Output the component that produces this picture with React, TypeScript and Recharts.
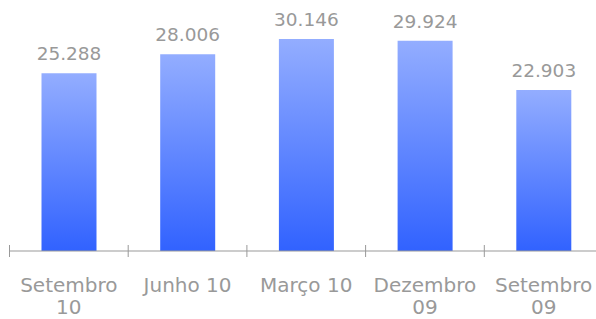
import { BarChart, Bar, XAxis, YAxis, LabelList } from 'recharts'

// Periods and values
const PERIODS = ['Setembro 10', 'Junho 10', 'Março 10', 'Dezembro 09', 'Setembro 09']
const LINE_ONE = ['Setembro', 'Junho 10', 'Março 10', 'Dezembro', 'Setembro']
const LINE_TWO = ['10', '', '', '09', '09']
const VALUES = [25.288, 28.006, 30.146, 29.924, 22.903]

const data = PERIODS.map((p, i) => ({ period: p, l1: LINE_ONE[i], l2: LINE_TWO[i], value: VALUES[i] }))

const W = 610
const H = 319
const M = { top: 5, right: 7, bottom: 0, left: 9.5 }
const BAND = (W - M.left - M.right) / PERIODS.length
const FONT = '"DejaVu Sans", Verdana, sans-serif'
const GREY = '#999999'

function PeriodTick(props: any) {
  const { x, y, payload, index } = props
  const row = data[index] ?? data.find((d) => d.period === payload.value)
  const left = x - BAND / 2
  return (
    <g>
      <line x1={left} x2={left} y1={y - 6} y2={y + 6} stroke={GREY} />
      {index === PERIODS.length - 1 && (
        <line x1={x + BAND / 2} x2={x + BAND / 2} y1={y - 6} y2={y + 6} stroke={GREY} />
      )}
      <text x={x} y={y + 41} textAnchor="middle" fill={GREY} fontSize={20} fontFamily={FONT}>
        {row?.l1}
      </text>
      {row?.l2 && (
        <text x={x} y={y + 63} textAnchor="middle" fill={GREY} fontSize={20} fontFamily={FONT}>
          {row.l2}
        </text>
      )}
    </g>
  )
}

function ValueLabel(props: any) {
  const { x, y, width, value } = props
  return (
    <text x={x + width / 2} y={y - 13} textAnchor="middle" fill={GREY} fontSize={18.5} fontFamily={FONT}>
      {Number(value).toFixed(3)}
    </text>
  )
}

export default function App() {
  return (
    <div style={{ position: 'absolute', left: 0, top: 0 }}>
      <BarChart width={W} height={H} data={data} margin={M}>
        <defs>
          <linearGradient id="barFill" x1="0" y1="0" x2="0" y2="1">
            <stop offset="0%" stopColor="#93adff" />
            <stop offset="100%" stopColor="#3162ff" />
          </linearGradient>
        </defs>
        <XAxis
          dataKey="period"
          height={68}
          interval={0}
          tickLine={false}
          tickSize={0}
          tickMargin={0}
          axisLine={{ stroke: GREY }}
          tick={<PeriodTick />}
        />
        <YAxis hide domain={[0, 35]} />
        <Bar dataKey="value" fill="url(#barFill)" barSize={55} isAnimationActive={false}>
          <LabelList dataKey="value" content={<ValueLabel />} />
        </Bar>
      </BarChart>
    </div>
  )
}
